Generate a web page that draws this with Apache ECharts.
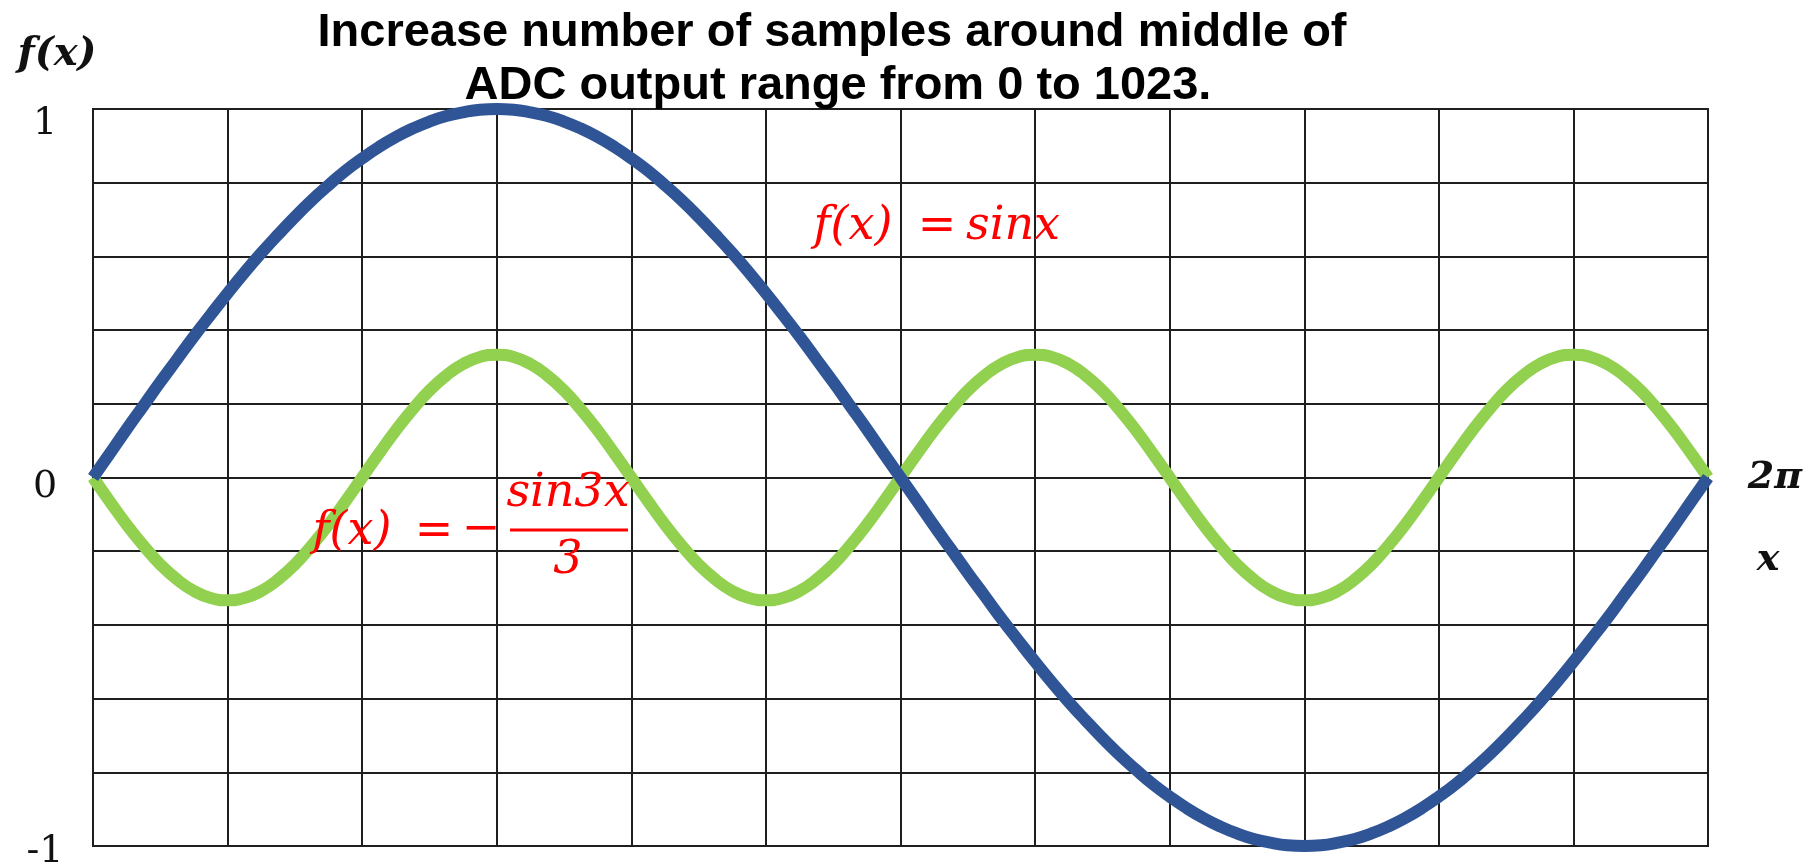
<!DOCTYPE html>
<html>
<head>
<meta charset="utf-8">
<script src="https://cdn.jsdelivr.net/npm/echarts@6/dist/echarts.min.js"></script>
<style>
html,body{margin:0;padding:0;background:#fff;}
#chart{width:1816px;height:865px;}
</style>
</head>
<body>
<div id="chart"></div>
<script>
// x positions in units of pi/6 (grid columns 0..12 => 0..2pi)
const xVals = [0,0.125,0.25,0.375,0.5,0.625,0.75,0.875,1,1.125,1.25,1.375,1.5,1.625,1.75,1.875,2,2.125,2.25,2.375,2.5,2.625,2.75,2.875,3,3.125,3.25,3.375,3.5,3.625,3.75,3.875,4,4.125,4.25,4.375,4.5,4.625,4.75,4.875,5,5.125,5.25,5.375,5.5,5.625,5.75,5.875,6,6.125,6.25,6.375,6.5,6.625,6.75,6.875,7,7.125,7.25,7.375,7.5,7.625,7.75,7.875,8,8.125,8.25,8.375,8.5,8.625,8.75,8.875,9,9.125,9.25,9.375,9.5,9.625,9.75,9.875,10,10.125,10.25,10.375,10.5,10.625,10.75,10.875,11,11.125,11.25,11.375,11.5,11.625,11.75,11.875,12];
// f(x) = sin x (blue)
const sinVals = [0,.065,.131,.195,.259,.321,.383,.442,.5,.556,.609,.659,.707,.752,.793,.832,.866,.897,.924,.947,.966,.981,.991,.998,1,
  .998,.991,.981,.966,.947,.924,.897,.866,.832,.793,.752,.707,.659,.609,.556,.5,.442,.383,.321,.259,.195,.131,.065,0,
  -.065,-.131,-.195,-.259,-.321,-.383,-.442,-.5,-.556,-.609,-.659,-.707,-.752,-.793,-.832,-.866,-.897,-.924,-.947,-.966,-.981,-.991,-.998,-1,
  -.998,-.991,-.981,-.966,-.947,-.924,-.897,-.866,-.832,-.793,-.752,-.707,-.659,-.609,-.556,-.5,-.442,-.383,-.321,-.259,-.195,-.131,-.065,0];
// f(x) = -sin3x/3 (green)
const sin3Vals = [0,-.065,-.128,-.185,-.236,-.277,-.308,-.327,-.333,-.327,-.308,-.277,-.236,-.185,-.128,-.065,0,.065,.128,.185,.236,.277,.308,.327,.333,.327,.308,.277,.236,.185,.128,.065,
  0,-.065,-.128,-.185,-.236,-.277,-.308,-.327,-.333,-.327,-.308,-.277,-.236,-.185,-.128,-.065,0,.065,.128,.185,.236,.277,.308,.327,.333,.327,.308,.277,.236,.185,.128,.065,
  0,-.065,-.128,-.185,-.236,-.277,-.308,-.327,-.333,-.327,-.308,-.277,-.236,-.185,-.128,-.065,0,.065,.128,.185,.236,.277,.308,.327,.333,.327,.308,.277,.236,.185,.128,.065,0];
const yTickLabels = {'1':'{t|1}','0':'{m|0}','-1':'{b|-1}'};
const titleLines = ['Increase number of samples around middle of','ADC output range from 0 to 1023.'];

const chart = echarts.init(document.getElementById('chart'), null, {renderer:'canvas'});
const pair = (ys) => xVals.map((x,i)=>[x, ys[i]]);
const redFont = {fill:'#ff0000', font:'italic 46px "DejaVu Serif"', align:'center', verticalAlign:'middle'};
function rt(text, x, y, extra){
  return {type:'text', x:x, y:y, z:100, style:Object.assign({text:text}, redFont, extra||{})};
}
const lblStyle = {fontFamily:'"DejaVu Serif"', fontSize:38, color:'#111'};
chart.setOption({
  animation:false,
  backgroundColor:'#fff',
  grid:{left:93, right:108, top:109, bottom:19, show:true, borderColor:'#1a1a1a', borderWidth:2,
        containLabel:false, outerBoundsMode:'none'},
  xAxis:{type:'value', min:0, max:12, interval:1,
    axisLine:{show:false}, axisTick:{show:false}, axisLabel:{show:false},
    splitLine:{show:true, lineStyle:{color:'#1f1f1f', width:2}}},
  yAxis:{type:'value', min:-1, max:1, interval:0.2,
    axisLine:{show:false}, axisTick:{show:false},
    axisLabel:{show:true, margin:48, align:'center',
      rich:{t:Object.assign({padding:[30,0,0,0]}, lblStyle), m:Object.assign({padding:[20,0,0,0]}, lblStyle), b:Object.assign({padding:[12,0,0,0]}, lblStyle)},
      formatter:(v)=>{const k=String(Math.round(v*10)/10); return yTickLabels[k]!==undefined?yTickLabels[k]:'';}},
    splitLine:{show:true, lineStyle:{color:'#1f1f1f', width:2}}},
  series:[
    {type:'line', data:pair(sin3Vals), smooth:true, showSymbol:false, clip:false,
     lineStyle:{color:'#92d050', width:12}, z:3},
    {type:'line', data:pair(sinVals), smooth:true, showSymbol:false, clip:false,
     lineStyle:{color:'#2f5597', width:12}, z:4}
  ],
  graphic:[
    {type:'text', x:832, y:33, z:100, style:{text:titleLines[0], font:'bold 47px "Liberation Sans"', fill:'#000', align:'center', verticalAlign:'middle'}},
    {type:'text', x:838, y:86, z:100, style:{text:titleLines[1], font:'bold 47px "Liberation Sans"', fill:'#000', align:'center', verticalAlign:'middle'}},
    {type:'text', x:57, y:55, z:100, style:{text:'f(x)', font:'bold italic 40px "DejaVu Serif"', fill:'#111', align:'center', verticalAlign:'middle'}},
    {type:'text', x:1775, y:478, z:100, style:{text:'2π', font:'bold italic 38px "DejaVu Serif"', fill:'#111', align:'center', verticalAlign:'middle'}},
    {type:'text', x:1768, y:560, z:100, style:{text:'x', font:'bold italic 38px "DejaVu Serif"', fill:'#111', align:'center', verticalAlign:'middle'}},
    rt('f(x)', 853, 227), rt('=', 937, 227, {font:'46px "DejaVu Serif"'}), rt('sinx', 1013, 227),
    rt('f(x)', 352, 532), rt('=', 434, 532, {font:'46px "DejaVu Serif"'}), rt('−', 481, 530, {font:'46px "DejaVu Serif"'}),
    rt('sin3x', 568, 494), rt('3', 568, 561),
    {type:'line', z:100, shape:{x1:510, y1:530, x2:628, y2:530}, style:{stroke:'#ff0000', lineWidth:3}}
  ]
});
</script>
</body>
</html>
